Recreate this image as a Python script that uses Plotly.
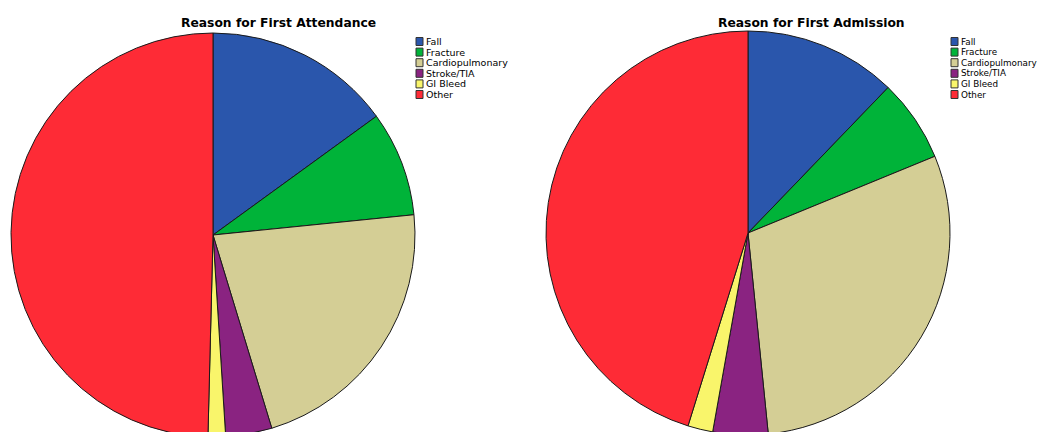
import plotly.graph_objects as go

# ---- data ----
labels = ["Fall", "Fracture", "Cardiopulmonary", "Stroke/TIA", "GI Bleed", "Other"]
attendance_pct = [15.0, 8.4, 21.9, 3.7, 1.4, 49.6]
admission_pct = [12.2, 6.6, 29.6, 4.4, 2.0, 45.2]
titles = ["Reason for First Attendance", "Reason for First Admission"]

colors = ["#2A56AC", "#00B339", "#D4CE95", "#8A2381", "#F9F56B", "#FE2B36"]

W, H = 1038, 440


def px_x(x):
    return x / W


def px_y(y):
    return 1 - y / H


fig = go.Figure()

pies = [
    dict(vals=attendance_pct, cx=213, cy=235, r=202, title_x=278, leg_x=416, fs=9.5),
    dict(vals=admission_pct, cx=748, cy=233, r=202, title_x=811, leg_x=951, fs=8.8),
]

for p, title in zip(pies, titles):
    fig.add_trace(go.Pie(
        labels=labels,
        values=p["vals"],
        sort=False,
        direction="clockwise",
        rotation=0,
        textinfo="none",
        hoverinfo="label+percent",
        showlegend=False,
        marker=dict(colors=colors, line=dict(color="#1a1a1a", width=1)),
        domain=dict(
            x=[px_x(p["cx"] - p["r"]), px_x(p["cx"] + p["r"])],
            y=[px_y(p["cy"] + p["r"]), px_y(p["cy"] - p["r"])],
        ),
    ))
    fig.add_annotation(
        text="<b>" + title + "</b>",
        x=px_x(p["title_x"]), y=px_y(23), xref="paper", yref="paper",
        xanchor="center", yanchor="middle", showarrow=False,
        font=dict(family="DejaVu Sans", size=12.3, color="#000"),
    )
    # legend
    for i, (lab, col) in enumerate(zip(labels, colors)):
        yc = 41.5 + i * 10.6
        fig.add_shape(
            type="rect", xref="paper", yref="paper",
            x0=px_x(p["leg_x"]), x1=px_x(p["leg_x"] + 7),
            y0=px_y(yc + 4), y1=px_y(yc - 4),
            fillcolor=col, line=dict(color="#333", width=1),
        )
        fig.add_annotation(
            text=lab, x=px_x(p["leg_x"] + 8), y=px_y(yc),
            xref="paper", yref="paper", xanchor="left", yanchor="middle",
            showarrow=False,
            font=dict(family="DejaVu Sans", size=p["fs"], color="#000"),
        )

fig.update_layout(
    width=W, height=H,
    margin=dict(l=0, r=0, t=0, b=0),
    paper_bgcolor="white", plot_bgcolor="white",
)

fig.write_html(
    "out.html",
    config={"displayModeBar": False},
    post_script="document.body.style.margin='0';document.body.style.overflow='hidden';",
)
